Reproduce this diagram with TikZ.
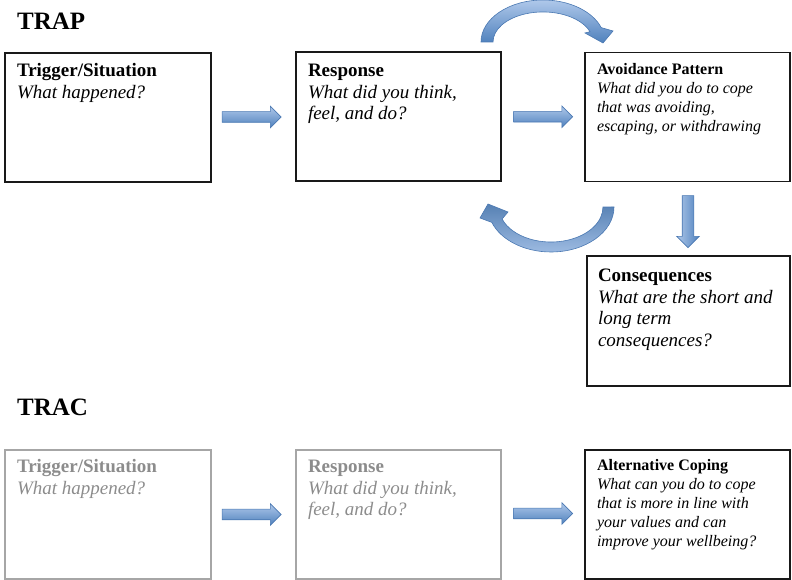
\documentclass[tikz,border=0pt]{standalone}
\usepackage{fontspec}
\setmainfont{Liberation Serif}
\usetikzlibrary{shapes.arrows,calc}
\definecolor{arrlight}{HTML}{AFC8EA}
\definecolor{arrdark}{HTML}{4F81BD}
\definecolor{arrline}{HTML}{4A78B2}
\definecolor{fadegray}{HTML}{8C8C8C}
\definecolor{fadeborder}{HTML}{A6A6A6}
\begin{document}
\begin{tikzpicture}[x=1pt,y=1pt,
  box/.style={draw=black!90, line width=1.1pt, inner sep=0pt, outer sep=0pt,
    minimum width=205pt, minimum height=129pt},
  fadebox/.style={box, draw=fadeborder},
  txt/.style={anchor=base west, inner sep=0pt, outer sep=0pt},
  big/.style={font=\fontsize{19}{21.5}\selectfont},
  small/.style={font=\fontsize{16}{19}\selectfont},
  title/.style={anchor=base west, inner sep=0pt, font=\fontsize{25}{25}\selectfont\bfseries},
  barrow/.style={single arrow, draw=arrline, line width=0.6pt, top color=arrlight,
    bottom color=arrdark, minimum height=59pt, minimum width=21pt,
    single arrow head extend=5.5pt, single arrow head indent=0pt,
    inner xsep=0pt, inner ysep=5pt},
  vbarrow/.style={barrow, shape border rotate=270, minimum height=52pt,
    inner xsep=5.5pt, inner ysep=0pt, minimum width=22pt, shading angle=90},
  carrow/.style={draw=arrline, line width=0.6pt, top color=arrlight, bottom color=arrdark}
]
\useasboundingbox (0,0) rectangle (792,580);

% titles
\node[title] (trap) at (17,550) {TRAP};
\node[title] (trac) at (17,164) {TRAC};

% TRAP boxes
\node[box, minimum width=206pt] (t1) at (108,462.5) {};
\node[box] (r1) at (398.5,463.5) {};
\node[box] (a) at (687.5,463) {};
\node[box, minimum width=203pt, minimum height=130pt] (c) at (688.5,259) {};

% TRAC boxes
\node[fadebox, minimum width=206pt] (t2) at (108,65.5) {};
\node[fadebox] (r2) at (398.5,65.5) {};
\node[box] (alt) at (687.5,65.5) {};

% texts TRAP
\node[txt, big] (t1txt) at (17,503) {\begin{tabular}[t]{@{}l@{}}\textbf{Trigger/Situation}\\ \textit{What happened?}\end{tabular}};
\node[txt, big] (r1txt) at (308,503) {\begin{tabular}[t]{@{}l@{}}\textbf{Response}\\ \textit{What did you think,}\\ \textit{feel, and do?}\end{tabular}};
\node[txt, small] (atxt) at (597,505) {\begin{tabular}[t]{@{}l@{}}\textbf{Avoidance Pattern}\\ \textit{What did you do to cope}\\ \textit{that was avoiding,}\\ \textit{escaping, or withdrawing}\end{tabular}};
\node[txt, big] (ctxt) at (598,298) {\begin{tabular}[t]{@{}l@{}}\textbf{Consequences}\\ \textit{What are the short and}\\ \textit{long term}\\ \textit{consequences?}\end{tabular}};

% texts TRAC
\node[txt, big, text=fadegray] (t2txt) at (17,107) {\begin{tabular}[t]{@{}l@{}}\textbf{Trigger/Situation}\\ \textit{What happened?}\end{tabular}};
\node[txt, big, text=fadegray] (r2txt) at (308,107) {\begin{tabular}[t]{@{}l@{}}\textbf{Response}\\ \textit{What did you think,}\\ \textit{feel, and do?}\end{tabular}};
\node[txt, small] (alttxt) at (597,109) {\begin{tabular}[t]{@{}l@{}}\textbf{Alternative Coping}\\ \textit{What can you do to cope}\\ \textit{that is more in line with}\\ \textit{your values and can}\\ \textit{improve your wellbeing?}\end{tabular}};

% straight block arrows
\node[barrow] (ar1) at ($($(t1.east)!0.5!(r1.west)$)+(-4.5,0)$) {};
\node[barrow] (ar2) at ($($(r1.east)!0.5!(a.west)$)+(-2.5,0)$) {};
\node[vbarrow] (ar3) at ($(a.south)!0.5!(c.north)+(0,0)$) {};
\node[barrow] (ar4) at ($($(t2.east)!0.5!(r2.west)$)+(-4.5,0)$) {};
\node[barrow] (ar5) at ($($(r2.east)!0.5!(alt.west)$)+(-2.5,1)$) {};

% curved arrows
\coordinate (tc) at (543,538);
\path[carrow] ($(tc)+(-62,0)$) arc[start angle=180, end angle=20, x radius=62, y radius=42]
  -- ($(tc)+(70,11)$) -- ($(tc)+(60,-1)$) -- ($(tc)+(42,9)$) -- ($(tc)+(47,10.3)$)
  arc[start angle=20, end angle=180, x radius=50, y radius=30] -- cycle;

\coordinate (bc) at (551,373);
\path[carrow, top color=arrdark!85!gray, bottom color=arrlight!80!arrdark] ($(bc)+(63,0)$) arc[start angle=0, end angle=-160, x radius=63, y radius=45]
  -- ($(bc)+(-71,-11)$) -- ($(bc)+(-63,3)$) -- ($(bc)+(-43,-5)$) -- ($(bc)+(-48.9,-12)$)
  arc[start angle=-160, end angle=0, x radius=52, y radius=35] -- cycle;
\end{tikzpicture}
\end{document}
